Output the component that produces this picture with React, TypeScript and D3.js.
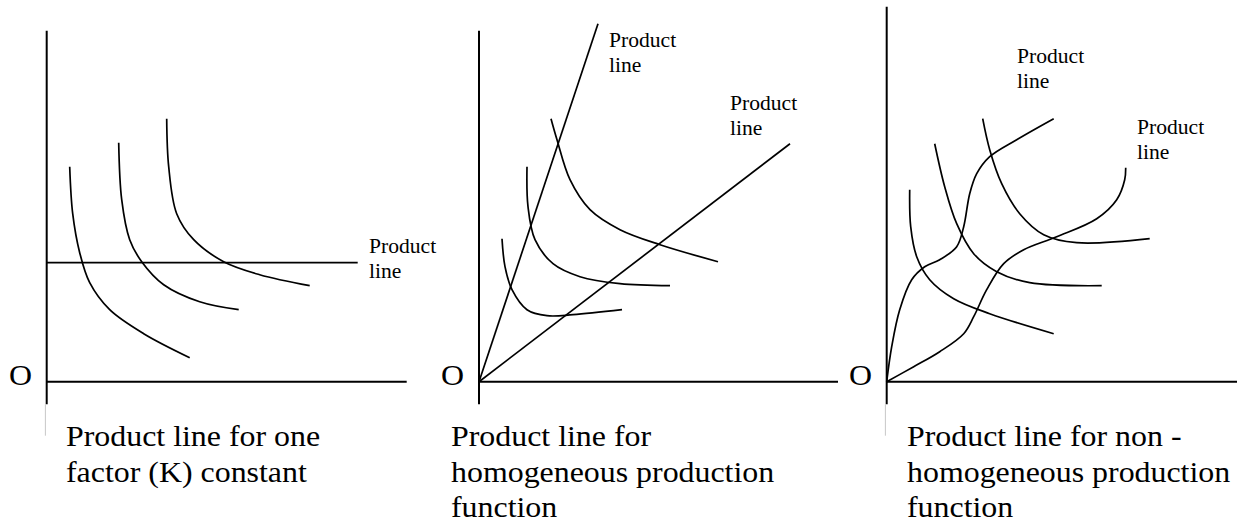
import React from 'react';
import * as d3 from 'd3';

// isoquant / product line points, in units from each panel's origin O
const p1IsoA: [number, number][] = [[23, 215], [26, 168], [33, 129], [43, 99], [63, 72], [97, 48], [143, 24]];
const p1IsoB: [number, number][] = [[72, 239], [75, 182], [83, 142], [95, 120], [117, 97], [153, 80], [192, 72]];
const p1IsoC: [number, number][] = [[120, 263], [122, 215], [130, 168], [147, 142], [177, 120], [213, 107], [263, 96]];
const p1Product: [number, number][] = [[0, 119], [311, 119]];

const p2IsoA: [number, number][] = [[23, 143], [26, 115], [33, 92], [48, 72], [68, 66], [94, 67], [143, 72]];
const p2IsoB: [number, number][] = [[48, 215], [49, 175], [56, 142], [74, 118], [101, 105], [141, 98], [191, 96]];
const p2IsoC: [number, number][] = [[72, 263], [78, 242], [91, 202], [111, 172], [141, 152], [181, 137], [239, 120]];
const p2ProductA: [number, number][] = [[0, 0], [119, 358]];
const p2ProductB: [number, number][] = [[0, 0], [311, 238]];

const p3IsoA: [number, number][] = [[23, 192], [24, 155], [30, 125], [43, 102], [67, 83], [103, 68], [167, 48]];
const p3IsoB: [number, number][] = [[48, 238], [58, 195], [70, 158], [87, 128], [110, 110], [143, 99], [215, 96]];
const p3IsoC: [number, number][] = [[96, 263], [103, 232], [115, 198], [133, 168], [157, 147], [190, 139], [263, 143]];
const p3ProductA: [number, number][] = [[0, 0], [5, 35], [13, 72], [25, 102], [38, 115], [53, 122], [70, 135], [77, 155], [83, 188], [90, 208], [103, 225], [130, 242], [167, 263]];
const p3ProductB: [number, number][] = [[0, 0], [27, 15], [53, 30], [77, 48], [87, 65], [100, 92], [117, 118], [137, 132], [170, 145], [210, 163], [230, 182], [238, 202], [239, 214]];

const captions1 = ['Product line for one', 'factor (K) constant'];
const captions2 = ['Product line for', 'homogeneous production', 'function'];
const captions3 = ['Product line for non -', 'homogeneous production', 'function'];
const labelLines = ['Product', 'line'];

const FONT = 'Liberation Serif';

type Pt = [number, number];

interface PanelProps {
  ox: number;
  xLen: number;
  yLen: number;
  oLabelX: number;
  isoquants: Pt[][];
  products: Pt[][];
  labels: Pt[];
  captions: string[];
  captionX: number;
  stub: boolean;
}

const OY = 381.7;

const Panel = ({ ox, xLen, yLen, oLabelX, isoquants, products, labels, captions, captionX, stub }: PanelProps) => {
  const x = d3.scaleLinear().domain([0, 1]).range([ox, ox + 1]);
  const y = d3.scaleLinear().domain([0, 1]).range([OY, OY - 1]);
  const curve = d3.line<Pt>().x(d => x(d[0])).y(d => y(d[1])).curve(d3.curveCatmullRom.alpha(0.5));
  const straight = d3.line<Pt>().x(d => x(d[0])).y(d => y(d[1]));

  return (
    <g>
      {/* axes */}
      <line x1={x(0)} y1={y(yLen)} x2={x(0)} y2={y(-22.5)} stroke="#000" strokeWidth={2} />
      <line x1={x(0)} y1={y(0)} x2={x(xLen)} y2={y(0)} stroke="#000" strokeWidth={2} />
      {stub && <line x1={x(-1.3)} y1={y(-22.5)} x2={x(-1.3)} y2={y(-54)} stroke="#c8c8c8" strokeWidth={1} />}
      <text transform={`translate(${oLabelX},385) scale(1.1,1)`} fontFamily={FONT} fontSize={29}>O</text>

      {products.map((p, i) => (
        <path key={'p' + i} d={(p.length > 2 ? curve(p) : straight(p)) || ''} fill="none" stroke="#000" strokeWidth={1.7} />
      ))}
      {isoquants.map((p, i) => (
        <path key={'i' + i} d={curve(p) || ''} fill="none" stroke="#000" strokeWidth={1.7} />
      ))}

      {labels.map((l, i) => (
        <g key={'l' + i}>
          {labelLines.map((t, j) => (
            <text key={j} transform={`translate(${l[0]},${l[1] + j * 25}) scale(1.08,1)`} fontFamily={FONT} fontSize={20}>{t}</text>
          ))}
        </g>
      ))}

      {captions.map((t, j) => (
        <text key={'c' + j} transform={`translate(${captionX},${446 + j * 35.5}) scale(1.1,1)`} fontFamily={FONT} fontSize={29}>{t}</text>
      ))}
    </g>
  );
};

export default function App() {
  return (
    <svg width={1237} height={525} style={{ position: 'absolute', left: 0, top: 0, background: '#fff' }}>
      <rect width={1237} height={525} fill="#fff" />
      <Panel
        ox={46.7} xLen={360} yLen={351} oLabelX={9}
        isoquants={[p1IsoA, p1IsoB, p1IsoC]}
        products={[p1Product]}
        labels={[[369, 253]]}
        captions={captions1} captionX={66} stub={true}
      />
      <Panel
        ox={479} xLen={359} yLen={351} oLabelX={441}
        isoquants={[p2IsoA, p2IsoB, p2IsoC]}
        products={[p2ProductA, p2ProductB]}
        labels={[[609, 47], [730, 110]]}
        captions={captions2} captionX={451} stub={false}
      />
      <Panel
        ox={886.7} xLen={351} yLen={375} oLabelX={849}
        isoquants={[p3IsoA, p3IsoB, p3IsoC]}
        products={[p3ProductA, p3ProductB]}
        labels={[[1017, 63], [1137, 134]]}
        captions={captions3} captionX={907} stub={true}
      />
    </svg>
  );
}
